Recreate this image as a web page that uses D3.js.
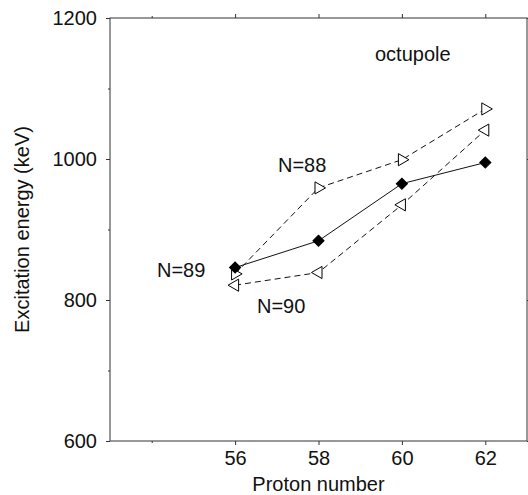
<!DOCTYPE html>
<html>
<head>
<meta charset="utf-8">
<script src="https://cdn.jsdelivr.net/npm/d3@7"></script>
<style>
  body { margin: 0; background: #fff; }
  svg text { font-family: "Liberation Sans", Arial, sans-serif; fill: #111; }
</style>
</head>
<body>
<svg id="chart" width="528" height="495"></svg>
<script>
// proton numbers
var protons = [56, 58, 60, 62]
// excitation energies (keV) of the octupole states
var n88 = [837, 959, 999, 1071]
var n89 = [846, 884, 965, 995]
var n90 = [821, 839, 935, 1041]

var yMajor = [600, 800, 1000, 1200]
var yMinor = [700, 900, 1100]
var xMajor = [56, 58, 60, 62]
var xMinor = [54]

var svg = d3.select("#chart")
var pLeft = 110, pRight = 527, pTop = 18, pBottom = 441

var x = d3.scaleLinear().domain([53, 63]).range([pLeft, pRight])
var y = d3.scaleLinear().domain([600, 1200]).range([pBottom, pTop])

var axisColor = "#333"

// frame
svg.append("rect")
  .attr("x", pLeft).attr("y", pTop)
  .attr("width", pRight - pLeft).attr("height", pBottom - pTop)
  .attr("fill", "none").attr("stroke", axisColor).attr("stroke-width", 1)

function styleAxis(g) {
  g.select(".domain").remove()
  g.selectAll("line").attr("stroke", axisColor)
  g.selectAll("text").style("font-size", "20px").attr("fill", "#111")
}

// y axis (left)
svg.append("g").attr("transform", "translate(" + pLeft + ",0)")
  .call(d3.axisLeft(y).tickValues(yMajor).tickSize(4).tickPadding(9).tickFormat(d3.format("d")))
  .call(styleAxis)
svg.append("g").attr("transform", "translate(" + pLeft + ",0)")
  .call(d3.axisLeft(y).tickValues(yMinor).tickSize(2).tickFormat(""))
  .call(styleAxis)
// right side ticks
svg.append("g").attr("transform", "translate(" + pRight + ",0)")
  .call(d3.axisRight(y).tickValues(yMajor).tickSize(4).tickFormat(""))
  .call(styleAxis)

// x axis (bottom)
svg.append("g").attr("transform", "translate(0," + pBottom + ")")
  .call(d3.axisBottom(x).tickValues(xMajor).tickSize(4).tickPadding(6).tickFormat(d3.format("d")))
  .call(styleAxis)
svg.append("g").attr("transform", "translate(0," + pBottom + ")")
  .call(d3.axisBottom(x).tickValues(xMinor).tickSize(2).tickFormat(""))
  .call(styleAxis)
// top ticks
svg.append("g").attr("transform", "translate(0," + pTop + ")")
  .call(d3.axisTop(x).tickValues(xMajor).tickSize(4).tickFormat(""))
  .call(styleAxis)
svg.append("g").attr("transform", "translate(0," + pTop + ")")
  .call(d3.axisTop(x).tickValues(xMinor).tickSize(2).tickFormat(""))
  .call(styleAxis)

// axis titles
svg.append("text")
  .attr("x", (pLeft + pRight) / 2).attr("y", 491)
  .attr("text-anchor", "middle").style("font-size", "20px")
  .text("Proton number")
svg.append("text")
  .attr("transform", "translate(29," + ((pTop + pBottom) / 2) + ") rotate(-90)")
  .attr("text-anchor", "middle").style("font-size", "20px")
  .text("Excitation energy (keV)")

var line = d3.line()
  .x(function(d) { return x(d[0]) })
  .y(function(d) { return y(d[1]) })

var series = [
  { vals: n88, dash: "6,4", shape: "right" },
  { vals: n90, dash: "6,4", shape: "left" },
  { vals: n89, dash: null, shape: "diamond" }
]

series.forEach(function(s) {
  var pts = protons.map(function(p, i) { return [p, s.vals[i]] })
  svg.append("path")
    .datum(pts)
    .attr("fill", "none")
    .attr("stroke", "#111")
    .attr("stroke-width", 1)
    .attr("stroke-dasharray", s.dash)
    .attr("d", line)

  var sym, rot, fill
  if (s.shape == "diamond") {
    sym = d3.symbol(d3.symbolSquare, 62); rot = 45; fill = "#000"
  } else {
    sym = d3.symbol(d3.symbolTriangle, 64); rot = s.shape == "right" ? 90 : -90; fill = "#fff"
  }
  svg.append("g").selectAll("path")
    .data(pts)
    .enter().append("path")
    .attr("d", sym)
    .attr("transform", function(d) { return "translate(" + x(d[0]) + "," + y(d[1]) + ") rotate(" + rot + ")" })
    .attr("fill", fill)
    .attr("stroke", "#000")
    .attr("stroke-width", 1)
})

// labels
svg.append("text").attr("x", 278).attr("y", 172).style("font-size", "20px").text("N=88")
svg.append("text").attr("x", 157).attr("y", 277).style("font-size", "20px").text("N=89")
svg.append("text").attr("x", 257).attr("y", 313).style("font-size", "20px").text("N=90")
svg.append("text").attr("x", 375).attr("y", 61).style("font-size", "20px").text("octupole")
</script>
</body>
</html>
